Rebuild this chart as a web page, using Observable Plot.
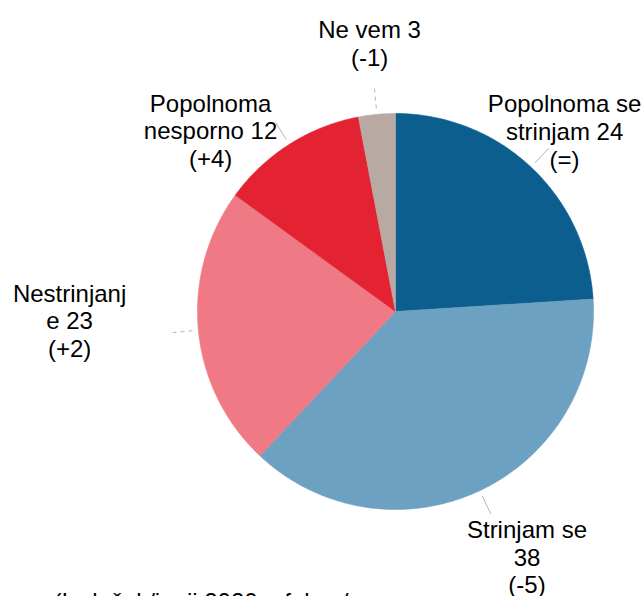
<!DOCTYPE html>
<html><head><meta charset="utf-8">
<script src="https://cdn.jsdelivr.net/npm/d3@7"></script>
<script src="https://cdn.jsdelivr.net/npm/@observablehq/plot@0.6"></script>
<style>body{margin:0;background:#fff;overflow:hidden}</style>
</head><body><div id="chart"></div>
<script>
// ---- data ----
const categories = ["Popolnoma se strinjam", "Strinjam se", "Nestrinjanje", "Popolnoma nesporno", "Ne vem"];
const values = [24, 38, 23, 12, 3];
const changes = ["(=)", "(-5)", "(+2)", "(+4)", "(-1)"];
const labelLines = [["Popolnoma se", "strinjam 24"], ["Strinjam se", "38"], ["Nestrinjanj", "e 23"], ["Popolnoma", "nesporno 12"], ["Ne vem 3"]];
const caption = "(Izvleček/junij 2020 – fokus/";

// ---- style / layout ----
const colors = ["#0b5e8e", "#6da1c1", "#ef7984", "#e32232", "#b8aaa2"];
const labelPos = [[0.854, 0.911], [0.664, -1.240], [-1.646, -0.045], [-0.934, 0.914], [-0.131, 1.355]];
const R = 198, CX = 395, CY = 311, W = 643, H = 596;

const total = d3.sum(values);
let acc = 0;
const slices = categories.map((c, i) => {
  const a0 = acc / total * 2 * Math.PI; acc += values[i];
  const a1 = acc / total * 2 * Math.PI;
  return {category: c, i, a0, a1, mid: (a0 + a1) / 2};
});
const piePts = slices.flatMap(s => {
  const n = Math.max(2, Math.ceil((s.a1 - s.a0) / (Math.PI / 360)));
  const pts = [{category: s.category, x: 0, y: 0}];
  for (let k = 0; k <= n; k++) {
    const a = s.a0 + (s.a1 - s.a0) * k / n;
    pts.push({category: s.category, x: Math.sin(a), y: Math.cos(a)});
  }
  pts.push({category: s.category, x: 0, y: 0});
  return pts;
});
const leaders = slices.map(s => ({
  category: s.category, dashed: s.i >= 4 || s.i === 2,
  x1: 1.03 * Math.sin(s.mid), y1: 1.03 * Math.cos(s.mid),
  x2: 1.13 * Math.sin(s.mid), y2: 1.13 * Math.cos(s.mid)
}));
const labels = slices.map(s => ({
  text: labelLines[s.i].join("\n") + "\n" + changes[s.i],
  x: labelPos[s.i][0], y: labelPos[s.i][1]
}));

const chart = Plot.plot({
  width: W, height: H, margin: 0,
  x: {domain: [-CX / R, (W - CX) / R], axis: null},
  y: {domain: [-(H - CY) / R, CY / R], axis: null},
  color: {domain: categories, range: colors},
  style: {fontFamily: "'Liberation Sans', Arial, sans-serif", background: "#fff"},
  marks: [
    Plot.line(piePts, {x: "x", y: "y", z: "category", fill: "category", stroke: "category", strokeWidth: 0.6, curve: "linear"}),
    Plot.link(leaders.filter(d => !d.dashed), {x1: "x1", y1: "y1", x2: "x2", y2: "y2", stroke: "#b5b5b5", strokeWidth: 1}),
    Plot.link(leaders.filter(d => d.dashed), {x1: "x1", y1: "y1", x2: "x2", y2: "y2", stroke: "#b5b5b5", strokeWidth: 1, strokeDasharray: "4,4"}),
    Plot.text(labels, {x: "x", y: "y", text: "text", fontSize: 24, lineHeight: 1.15, lineAnchor: "middle", textAnchor: "middle", fill: "#000"}),
    Plot.text([caption], {text: d => d, frameAnchor: "bottom-left", dx: 53, dy: -4, lineAnchor: "top", textAnchor: "start", fontSize: 24, fill: "#000"})
  ]
});
document.getElementById("chart").append(chart);
</script>
</body></html>
